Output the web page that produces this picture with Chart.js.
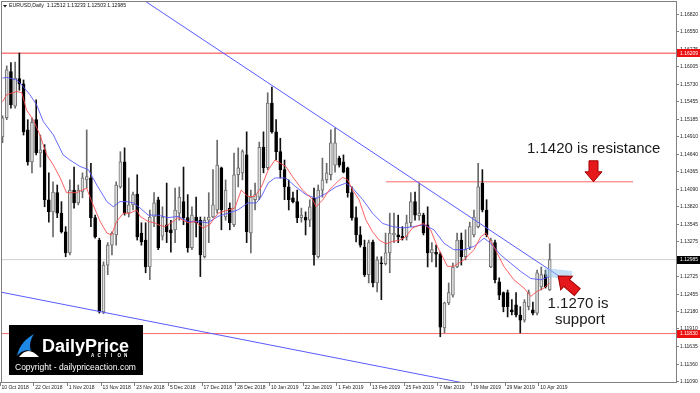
<!DOCTYPE html>
<html>
<head>
<meta charset="utf-8">
<script src="https://cdn.jsdelivr.net/npm/chart.js@4.4.0/dist/chart.umd.min.js"></script>
<style>
  html, body { margin: 0; padding: 0; background: #fff; }
  #wrap { width: 700px; height: 393px; }
</style>
</head>
<body>
<div id="wrap"><canvas id="chart" width="700" height="393"></canvas></div>
<script>
// EURUSD daily candles, 10 Oct 2018 -> mid Apr 2019
const opens = [1.1490,1.1520,1.1592,1.1538,1.1581,1.1573,1.1501,1.1451,1.1517,1.1465,
  1.1470,1.1392,1.1373,1.1403,1.1371,1.1342,1.1309,1.1407,1.1387,1.1404,
  1.1423,1.1426,1.1364,1.1329,1.1217,1.1290,1.1321,1.1337,1.1412,1.1451,
  1.1371,1.1384,1.1401,1.1340,1.1329,1.1287,1.1365,1.1392,1.1335,1.1353,
  1.1345,1.1345,1.1371,1.1389,1.1364,1.1317,1.1365,1.1360,1.1303,1.1360,
  1.1365,1.1376,1.1442,1.1365,1.1379,1.1353,1.1431,1.1434,1.1462,1.1340,
  1.1392,1.1396,1.1474,1.1442,1.1543,1.1498,1.1467,1.1439,1.1412,1.1395,
  1.1389,1.1364,1.1365,1.1360,1.1395,1.1303,1.1407,1.1423,1.1431,1.1446,
  1.1457,1.1451,1.1442,1.1403,1.1364,1.1337,1.1318,1.1275,1.1326,1.1262,
  1.1293,1.1292,1.1309,1.1337,1.1337,1.1335,1.1334,1.1356,1.1389,1.1367,
  1.1368,1.1353,1.1309,1.1310,1.1307,1.1192,1.1231,1.1243,1.1287,1.1329,
  1.1303,1.1318,1.1337,1.1350,1.1418,1.1376,1.1287,1.1325,1.1264,1.1247,
  1.1247,1.1220,1.1228,1.1212,1.1204,1.1225,1.1220,1.1215,1.1256,1.1275,
  1.12512];
const highs = [1.1523,1.1601,1.1606,1.1607,1.1621,1.1579,1.1517,1.1520,1.1548,1.1493,
  1.1478,1.1434,1.1420,1.1415,1.1389,1.1350,1.1423,1.1443,1.1415,1.1434,
  1.1501,1.1449,1.1368,1.1332,1.1295,1.1325,1.1342,1.1420,1.1467,1.1473,
  1.1426,1.1404,1.1431,1.1356,1.1356,1.1376,1.1403,1.1396,1.1381,1.1418,
  1.1360,1.1410,1.1412,1.1443,1.1400,1.1381,1.1396,1.1365,1.1365,1.1403,
  1.1439,1.1485,1.1443,1.1423,1.1387,1.1465,1.1473,1.1470,1.1498,1.1407,
  1.1418,1.1482,1.1498,1.1559,1.1568,1.1517,1.1488,1.1454,1.1423,1.1404,
  1.1407,1.1379,1.1373,1.1392,1.1410,1.1415,1.1457,1.1449,1.1501,1.1504,
  1.1460,1.1462,1.1443,1.1412,1.1381,1.1350,1.1329,1.1329,1.1329,1.1303,
  1.1303,1.1340,1.1371,1.1371,1.1368,1.1350,1.1368,1.1403,1.1404,1.1418,
  1.1371,1.1381,1.1325,1.1321,1.1310,1.1232,1.1262,1.1293,1.1340,1.1340,
  1.1345,1.1357,1.1376,1.1449,1.1439,1.1392,1.1332,1.1329,1.1270,1.1248,
  1.1251,1.1236,1.1247,1.1225,1.1236,1.1251,1.1232,1.1282,1.1287,1.1282,
  1.13233];
const lows = [1.1481,1.1517,1.1535,1.1535,1.1563,1.1493,1.1446,1.1434,1.1462,1.1443,
  1.1381,1.1357,1.1334,1.1364,1.1340,1.1303,1.1306,1.1379,1.1384,1.1395,
  1.1410,1.1350,1.1332,1.1215,1.1214,1.1275,1.1306,1.1321,1.1410,1.1368,
  1.1365,1.1376,1.1329,1.1321,1.1278,1.1267,1.1350,1.1314,1.1329,1.1325,
  1.1310,1.1325,1.1360,1.1353,1.1310,1.1314,1.1334,1.1272,1.1301,1.1325,
  1.1364,1.1371,1.1345,1.1360,1.1345,1.1350,1.1412,1.1423,1.1325,1.1309,
  1.1376,1.1392,1.1434,1.1439,1.1496,1.1454,1.1426,1.1392,1.1376,1.1387,
  1.1356,1.1357,1.1337,1.1350,1.1290,1.1301,1.1396,1.1418,1.1423,1.1435,
  1.1443,1.1434,1.1396,1.1360,1.1326,1.1318,1.1272,1.1262,1.1256,1.1248,
  1.1236,1.1290,1.1278,1.1325,1.1325,1.1329,1.1329,1.1350,1.1360,1.1360,
  1.1337,1.1287,1.1295,1.1287,1.1178,1.1184,1.1228,1.1240,1.1286,1.1290,
  1.1298,1.1314,1.1334,1.1348,1.1373,1.1334,1.1286,1.1262,1.1236,1.1217,
  1.1209,1.1212,1.1209,1.1184,1.1201,1.1220,1.1212,1.1212,1.1251,1.1254,
  1.12503];
const closes = [1.1520,1.1595,1.1540,1.1582,1.1573,1.1498,1.1451,1.1513,1.1465,1.1470,
  1.1392,1.1373,1.1404,1.1371,1.1342,1.1309,1.1407,1.1387,1.1407,1.1426,
  1.1428,1.1364,1.1334,1.1217,1.1290,1.1321,1.1340,1.1415,1.1451,1.1371,
  1.1384,1.1400,1.1334,1.1326,1.1287,1.1365,1.1387,1.1317,1.1365,1.1342,
  1.1340,1.1376,1.1396,1.1364,1.1317,1.1368,1.1356,1.1306,1.1360,1.1365,
  1.1384,1.1446,1.1376,1.1407,1.1356,1.1431,1.1442,1.1467,1.1342,1.1396,
  1.1400,1.1474,1.1442,1.1543,1.1498,1.1467,1.1439,1.1412,1.1392,1.1389,
  1.1364,1.1368,1.1360,1.1381,1.1306,1.1407,1.1423,1.1434,1.1481,1.1481,
  1.1446,1.1435,1.1403,1.1364,1.1337,1.1321,1.1275,1.1325,1.1262,1.1298,
  1.1292,1.1309,1.1340,1.1340,1.1334,1.1332,1.1356,1.1389,1.1368,1.1371,
  1.1340,1.1309,1.1314,1.1307,1.1193,1.1231,1.1247,1.1287,1.1329,1.1303,
  1.1314,1.1350,1.1365,1.1412,1.1376,1.1337,1.1329,1.1267,1.1243,1.1225,
  1.1225,1.1217,1.1212,1.1204,1.1232,1.1247,1.1215,1.1278,1.1275,1.1256,
  1.12985];

// moving averages (bar index, price)
const redEmaIdx = [0,1,3.4,4.6,5.7,7.3,8.9,10.5,12.1,13.7,15.2,17.6,20,21.2,23.2,24.8,25.9,27.1,28.7,30.3,
  31.9,32.7,34.6,36.2,36.9,38.5,40.1,41.7,42.9,44.1,45.7,47.6,49.2,51.2,53.6,55.2,56.7,58.3,59.9,61.5,
  63.1,64.7,67.3,68.9,71.3,73.7,74.5,76.1,77.6,79.6,80.8,82,83.2,84.7,86.3,87.9,89.5,91.1,92.7,94.3,
  95.8,97.4,100.1,101.7,103.3,105.7,107.2,109.6,112,113.6,114.8,116.7,119.1,121.5,123.9,125.5,127,128.6,130];
const redEmaVal = [1.1545,1.1556,1.1561,1.1559,1.1532,1.1517,1.1493,1.1462,1.1446,1.1426,1.1403,1.1403,1.1410,1.1389,1.1358,1.1340,1.1337,1.1358,1.1371,1.1371,
  1.1376,1.1366,1.1358,1.1356,1.1353,1.1350,1.1356,1.1364,1.1360,1.1356,1.1358,1.1348,1.1353,1.1371,1.1376,1.1379,1.1407,1.1397,1.1397,1.1412,
  1.1438,1.1454,1.1444,1.1428,1.1407,1.1392,1.1381,1.1392,1.1407,1.1420,1.1427,1.1423,1.1407,1.1392,1.1361,1.1342,1.1329,1.1323,1.1327,1.1329,
  1.1334,1.1348,1.1355,1.1345,1.1319,1.1288,1.1288,1.1298,1.1314,1.1334,1.1340,1.1319,1.1288,1.1267,1.1254,1.1241,1.1249,1.1254,1.1262];
const blueEmaIdx = [0,1,3.4,4.6,6.5,8.1,9.7,12.1,14.4,16,18.4,20.4,22.4,24.8,26.3,27.9,29.5,31.1,32.7,34.6,
  36.9,39.3,41.7,44.1,46.4,48.8,51.2,53.6,55.9,58.3,60.3,61.5,63.1,64.7,67.3,69.7,72.1,74.5,76.9,79.2,
  81.6,83.2,85.6,87.9,90.3,92.7,95.1,97.7,100.1,102.5,104.9,107.2,109.6,112,114.4,116,118.3,120.7,123.1,125.5,
  127.9,130];
const blueEmaVal = [1.1582,1.1583,1.1579,1.1571,1.1556,1.1540,1.1514,1.1493,1.1462,1.1454,1.1444,1.1439,1.1415,1.1389,1.1381,1.1389,1.1389,1.1387,1.1379,1.1368,
  1.1368,1.1364,1.1366,1.1358,1.1358,1.1356,1.1366,1.1371,1.1376,1.1387,1.1387,1.1397,1.1418,1.1426,1.1426,1.1412,1.1400,1.1394,1.1402,1.1412,
  1.1418,1.1410,1.1392,1.1371,1.1355,1.1350,1.1348,1.1350,1.1353,1.1345,1.1324,1.1314,1.1314,1.1319,1.1332,1.1324,1.1306,1.1293,1.1280,1.1269,
  1.1267,1.1272];

// drawn lines
const upperTrendIdx = [30, 132.4];
const upperTrendVal = [1.1719, 1.1272];
const lowerTrendIdx = [-1, 110];
const lowerTrendVal = [1.12485, 1.11053];
const resistanceTop = 1.16209;
const supportLevel = 1.11830;
const bidLevel = 1.12985;
const resistanceMid = 1.1420;
const resistanceMidIdx = [91.1, 149.8];

// axis labels
const dateLabels = ['10 Oct 2018','22 Oct 2018','1 Nov 2018','13 Nov 2018','23 Nov 2018','5 Dec 2018',
  '17 Dec 2018','28 Dec 2018','10 Jan 2019','22 Jan 2019','1 Feb 2019','13 Feb 2019','25 Feb 2019',
  '7 Mar 2019','19 Mar 2019','29 Mar 2019','10 Apr 2019'];
const dateStep = 8;
const priceTicks = [1.16820,1.16550,1.16275,1.16005,1.15730,1.15455,1.15185,1.14910,1.14640,1.14365,
  1.14090,1.13820,1.13545,1.13275,1.13000,1.12725,1.12455,1.12180,1.11910,1.11635,1.11360,1.11090];

const BULL_FILL = '#e0e0e0', BULL_EDGE = '#707070', BEAR = '#000000';

const isBull = opens.map((o, i) => closes[i] >= o);
const wickData = highs.map((h, i) => ({ x: i, y: [lows[i], h] }));
const bodyData = opens.map((o, i) => ({ x: i, y: [o, closes[i]] }));
const toPts = (xs, ys) => xs.map((x, i) => ({ x: x, y: ys[i] }));
const flat = (v, a, b) => [{ x: a, y: v }, { x: b, y: v }];

function line(data, color, width, order) {
  return { type: 'line', data: data, borderColor: color, borderWidth: width || 1,
    pointRadius: 0, tension: 0, fill: false, order: order };
}

function drawArrow(ctx, tx, ty, ang, len, sw, hw, hl) {
  ctx.save();
  ctx.translate(tx, ty);
  ctx.rotate(ang);
  ctx.beginPath();
  ctx.moveTo(0, 0);
  ctx.lineTo(-hl, -hw / 2);
  ctx.lineTo(-hl, -sw / 2);
  ctx.lineTo(-len, -sw / 2);
  ctx.lineTo(-len, sw / 2);
  ctx.lineTo(-hl, sw / 2);
  ctx.lineTo(-hl, hw / 2);
  ctx.closePath();
  ctx.fillStyle = '#e5191c';
  ctx.fill();
  ctx.strokeStyle = '#a30000';
  ctx.lineWidth = 1;
  ctx.stroke();
  ctx.restore();
}

function priceBox(ctx, y, text, fill) {
  ctx.fillStyle = fill;
  ctx.fillRect(677, Math.round(y) - 4, 23, 8);
  ctx.fillStyle = '#fff';
  ctx.font = '5px "Liberation Sans"';
  ctx.textAlign = 'left';
  ctx.textBaseline = 'middle';
  ctx.fillText(text, 680, y + 0.5);
}

const decor = {
  id: 'decor',
  beforeDraw(chart) {
    const ctx = chart.ctx;
    ctx.save();
    ctx.fillStyle = '#fff';
    ctx.fillRect(0, 0, chart.width, chart.height);
    ctx.restore();
  },
  afterDatasetsDraw(chart) {
    const ctx = chart.ctx;
    const xs = chart.scales.x, ys = chart.scales.y;
    const ca = chart.chartArea;
    ctx.save();

    // light blue highlight where price meets the trend line
    ctx.fillStyle = 'rgba(150, 196, 236, 0.55)';
    ctx.beginPath();
    ctx.moveTo(545, 268);
    ctx.lineTo(572, 271);
    ctx.lineTo(572, 279);
    ctx.lineTo(545, 277);
    ctx.closePath();
    ctx.fill();

    // frame
    ctx.strokeStyle = '#808080';
    ctx.lineWidth = 1;
    ctx.strokeRect(ca.left + 0.5, ca.top + 0.5, ca.right - ca.left, ca.bottom - ca.top);

    // price axis
    ctx.fillStyle = '#222';
    ctx.font = '5px "Liberation Sans"';
    ctx.textAlign = 'left';
    ctx.textBaseline = 'middle';
    priceTicks.forEach(v => {
      const y = Math.round(ys.getPixelForValue(v)) + 0.5;
      ctx.beginPath();
      ctx.moveTo(ca.right, y);
      ctx.lineTo(ca.right + 3, y);
      ctx.stroke();
      ctx.fillText(v.toFixed(5), 680, y);
    });
    priceBox(ctx, ys.getPixelForValue(resistanceTop), resistanceTop.toFixed(5), '#ee1111');
    priceBox(ctx, ys.getPixelForValue(bidLevel), bidLevel.toFixed(5), '#000');
    priceBox(ctx, ys.getPixelForValue(supportLevel), supportLevel.toFixed(5), '#ee1111');

    // time axis
    ctx.fillStyle = '#222';
    ctx.font = '5px "Liberation Sans"';
    ctx.textAlign = 'left';
    ctx.textBaseline = 'middle';
    dateLabels.forEach((lab, k) => {
      const x = xs.getPixelForValue(k * dateStep);
      const tx = Math.round(x) - 2.5;
      ctx.beginPath();
      ctx.moveTo(tx, ca.bottom);
      ctx.lineTo(tx, ca.bottom + 4);
      ctx.stroke();
      ctx.fillText(lab, x - 1, 388);
    });

    // header
    ctx.fillStyle = '#111';
    ctx.beginPath();
    ctx.moveTo(3, 5); ctx.lineTo(7, 5); ctx.lineTo(5, 7.5); ctx.closePath();
    ctx.fill();
    ctx.font = '5.2px "Liberation Sans"';
    ctx.fillText('EURUSD,Daily  1.12512 1.13233 1.12503 1.12985', 9, 6);

    // annotations
    ctx.fillStyle = '#1a1a1a';
    ctx.font = '15px "Liberation Sans"';
    ctx.textBaseline = 'alphabetic';
    ctx.fillText('1.1420 is resistance', 527, 153);
    ctx.textAlign = 'center';
    ctx.fillText('1.1270 is', 578, 308);
    ctx.fillText('support', 580, 324);

    drawArrow(ctx, xs.getPixelForValue(140.4), ys.getPixelForValue(resistanceMid), Math.PI / 2, 21, 9, 17, 10);
    drawArrow(ctx, xs.getPixelForValue(132.0), ys.getPixelForValue(1.1273), Math.atan2(-16, -19), 25, 9, 18, 11);

    // logo
    ctx.fillStyle = '#000';
    ctx.fillRect(9, 325, 134, 50);
    ctx.fillStyle = '#1e88e5';
    ctx.beginPath();
    ctx.moveTo(17, 356);
    ctx.bezierCurveTo(19, 346, 25, 339, 34, 334);
    ctx.bezierCurveTo(30, 340, 29, 346, 31, 351);
    ctx.bezierCurveTo(26, 349, 21, 351, 17, 356);
    ctx.fill();
    ctx.fillStyle = '#fff';
    ctx.beginPath();
    ctx.moveTo(19, 357);
    ctx.quadraticCurveTo(28, 345, 39, 357);
    ctx.closePath();
    ctx.fill();
    ctx.textAlign = 'left';
    ctx.font = 'bold 18px "Liberation Sans"';
    ctx.fillText('DailyPrice', 42, 352);
    ctx.font = 'bold 4.5px "Liberation Sans"';
    'ACTION'.split('').forEach((ch, k) => ctx.fillText(ch, 91 + k * 6.6, 357));
    ctx.font = '8.5px "Liberation Sans"';
    ctx.fillText('Copyright - dailypriceaction.com', 15, 370);

    ctx.restore();
  }
};

new Chart(document.getElementById('chart'), {
  type: 'bar',
  data: {
    datasets: [
      line(toPts(redEmaIdx, redEmaVal), 'rgba(255,70,70,0.85)', 1, 0),
      line(toPts(blueEmaIdx, blueEmaVal), 'rgba(80,80,255,0.85)', 1, 0),
      line(toPts(upperTrendIdx, upperTrendVal), '#5a5aff', 1, 0),
      line(toPts(lowerTrendIdx, lowerTrendVal), '#5a5aff', 1, 0),
      line(flat(resistanceTop, -1, 161), '#ff7a7a', 1.5, 5),
      line(flat(supportLevel, -1, 161), '#ff6a6a', 1, 5),
      line(flat(bidLevel, -1, 161), '#cfcfcf', 1, 5),
      line(flat(resistanceMid, resistanceMidIdx[0], resistanceMidIdx[1]), '#ff6a6a', 1, 5),
      {
        type: 'bar', data: bodyData, order: 1,
        barThickness: 3, minBarLength: 1, grouped: false,
        backgroundColor: isBull.map(b => b ? BULL_FILL : BEAR),
        borderColor: isBull.map(b => b ? BULL_EDGE : BEAR),
        borderWidth: 1, borderSkipped: false
      },
      {
        type: 'bar', data: wickData, order: 2,
        barThickness: 1, grouped: false,
        backgroundColor: isBull.map(b => b ? '#6a6a6a' : '#111'),
        borderWidth: 0
      }
    ]
  },
  options: {
    responsive: false,
    animation: false,
    devicePixelRatio: 1,
    layout: { padding: { left: 1, top: 1, right: 24, bottom: 11 } },
    plugins: { legend: { display: false }, tooltip: { enabled: false } },
    scales: {
      x: { type: 'linear', min: -0.36, max: 160, offset: false, display: false },
      y: { type: 'linear', min: 1.11074, max: 1.17023, beginAtZero: false, display: false }
    }
  },
  plugins: [decor]
});
</script>
</body>
</html>
